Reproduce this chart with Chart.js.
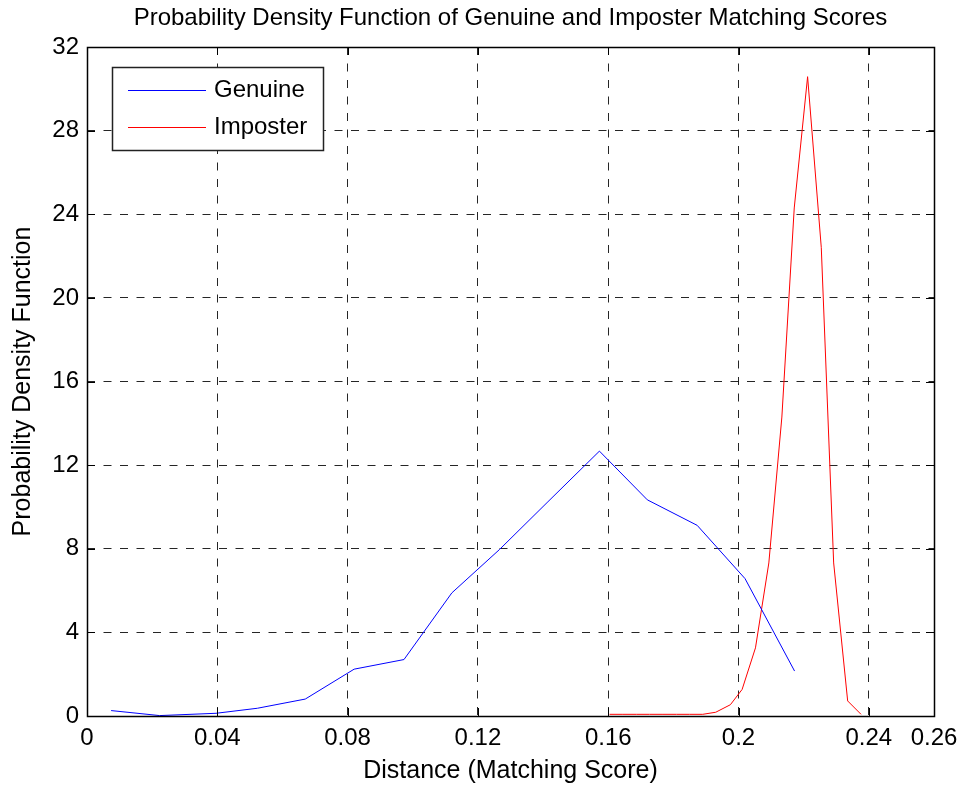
<!DOCTYPE html>
<html>
<head>
<meta charset="utf-8">
<title>PDF of matching scores</title>
<script src="https://cdn.jsdelivr.net/npm/chart.js@4/dist/chart.umd.min.js"></script>
<style>
  html, body { margin: 0; padding: 0; background: #fff; }
  #wrap { width: 971px; height: 791px; }
</style>
</head>
<body>
<div id="wrap"><canvas id="pdfChart" width="971" height="791"></canvas></div>
<script>
// histogram bin centres and densities
const genuineX = [0.0074, 0.0223, 0.0396, 0.0523, 0.0670, 0.0820, 0.0973, 0.1120, 0.1266, 0.1415, 0.1573, 0.1720, 0.1873, 0.2020, 0.2172];
const genuineY = [0.26, 0.02, 0.13, 0.37, 0.81, 2.24, 2.70, 5.89, 7.96, 10.25, 12.67, 10.34, 9.12, 6.57, 2.15];

const imposterX = [0.1604, 0.1645, 0.1686, 0.1727, 0.1768, 0.1809, 0.1849, 0.1890, 0.1930, 0.1975, 0.2011, 0.2052, 0.2093, 0.2133, 0.2171, 0.2212, 0.2254, 0.2292, 0.2335, 0.2376];
const imposterY = [0.08, 0.08, 0.08, 0.08, 0.08, 0.08, 0.08, 0.08, 0.18, 0.54, 1.27, 3.26, 7.32, 14.3, 24.3, 30.58, 22.4, 7.32, 0.72, 0.08];

const xTicks = [0, 0.04, 0.08, 0.12, 0.16, 0.2, 0.24, 0.26];
const yTicks = [0, 4, 8, 12, 16, 20, 24, 28, 32];

const titleText = "Probability Density Function of Genuine and Imposter Matching Scores";
const FONT = "'Liberation Sans', Arial, Helvetica, sans-serif";

const toPoints = (xs, ys) => xs.map((x, i) => ({ x, y: ys[i] }));

// frame, inward ticks, title and the boxed legend
const framePlugin = {
  id: "frame",
  afterDraw(chart) {
    const { ctx, chartArea: a, scales } = chart;
    const tl = 8;
    ctx.save();
    ctx.strokeStyle = "#000";
    ctx.lineWidth = 1;
    ctx.beginPath();
    xTicks.forEach(v => {
      const px = Math.round(scales.x.getPixelForValue(v)) + 0.5;
      ctx.moveTo(px, a.bottom); ctx.lineTo(px, a.bottom - tl);
      ctx.moveTo(px, a.top); ctx.lineTo(px, a.top + tl);
    });
    yTicks.forEach(v => {
      const py = Math.round(scales.y.getPixelForValue(v)) + 0.5;
      ctx.moveTo(a.left, py); ctx.lineTo(a.left + tl, py);
      ctx.moveTo(a.right, py); ctx.lineTo(a.right - tl, py);
    });
    ctx.stroke();
    ctx.lineWidth = 1.5;
    ctx.strokeRect(Math.round(a.left) + 0.5, Math.round(a.top) + 0.5,
                   Math.round(a.right - a.left), Math.round(a.bottom - a.top));

    // title
    ctx.fillStyle = "#000";
    ctx.font = "24px " + FONT;
    ctx.textAlign = "center";
    ctx.textBaseline = "middle";
    ctx.fillText(titleText, (a.left + a.right) / 2, 18);

    // legend
    const lx = 112, ly = 67, lw = 211, lh = 83;
    ctx.fillStyle = "#fff";
    ctx.fillRect(lx, ly, lw, lh);
    ctx.lineWidth = 1.5;
    ctx.strokeStyle = "#222";
    ctx.strokeRect(lx + 0.5, ly + 0.5, lw, lh);
    ctx.font = "24px " + FONT;
    ctx.textAlign = "left";
    chart.data.datasets.forEach((ds, i) => {
      const y = ly + 22.5 + i * 37;
      ctx.strokeStyle = ds.borderColor;
      ctx.lineWidth = 1;
      ctx.beginPath();
      ctx.moveTo(128, Math.round(y) + 0.5);
      ctx.lineTo(206, Math.round(y) + 0.5);
      ctx.stroke();
      ctx.fillStyle = "#000";
      ctx.fillText(ds.label, 214, y + 1);
    });
    ctx.restore();
  }
};

new Chart(document.getElementById("pdfChart").getContext("2d"), {
  type: "scatter",
  data: {
    datasets: [
      {
        label: "Genuine",
        data: toPoints(genuineX, genuineY),
        showLine: true,
        borderColor: "#0000ff",
        borderWidth: 1,
        pointRadius: 0,
        tension: 0
      },
      {
        label: "Imposter",
        data: toPoints(imposterX, imposterY),
        showLine: true,
        borderColor: "#ff0000",
        borderWidth: 1,
        pointRadius: 0,
        tension: 0
      }
    ]
  },
  options: {
    responsive: false,
    animation: false,
    layout: { padding: { top: 47, right: 37, left: 0, bottom: 0 } },
    plugins: {
      legend: { display: false },
      title: { display: false },
      tooltip: { enabled: false }
    },
    scales: {
      x: {
        type: "linear",
        min: 0,
        max: 0.26,
        afterBuildTicks: s => { s.ticks = xTicks.map(v => ({ value: v })); },
        afterFit: s => { s.height = 75; },
        ticks: {
          color: "#000",
          padding: 8,
          maxRotation: 0,
          autoSkip: false,
          font: { family: FONT, size: 24 },
          callback: v => String(v)
        },
        grid: { color: "rgba(0,0,0,0.85)", lineWidth: 1, drawTicks: false },
        border: { display: false, dash: [8, 8.5] },
        title: {
          display: true,
          text: "Distance (Matching Score)",
          color: "#000",
          font: { family: FONT, size: 25 },
          padding: { top: 0, bottom: 5 }
        }
      },
      y: {
        type: "linear",
        min: 0,
        max: 32,
        afterBuildTicks: s => { s.ticks = yTicks.map(v => ({ value: v })); },
        afterFit: s => { s.width = 87; },
        ticks: {
          color: "#000",
          padding: 8,
          autoSkip: false,
          font: { family: FONT, size: 24 },
          callback: v => String(v)
        },
        grid: { color: "rgba(0,0,0,0.85)", lineWidth: 1, drawTicks: false },
        border: { display: false, dash: [8, 8.5] },
        title: {
          display: true,
          text: "Probability Density Function",
          color: "#000",
          font: { family: FONT, size: 25 },
          padding: { top: 8, bottom: 0 }
        }
      }
    }
  },
  plugins: [framePlugin]
});
</script>
</body>
</html>
